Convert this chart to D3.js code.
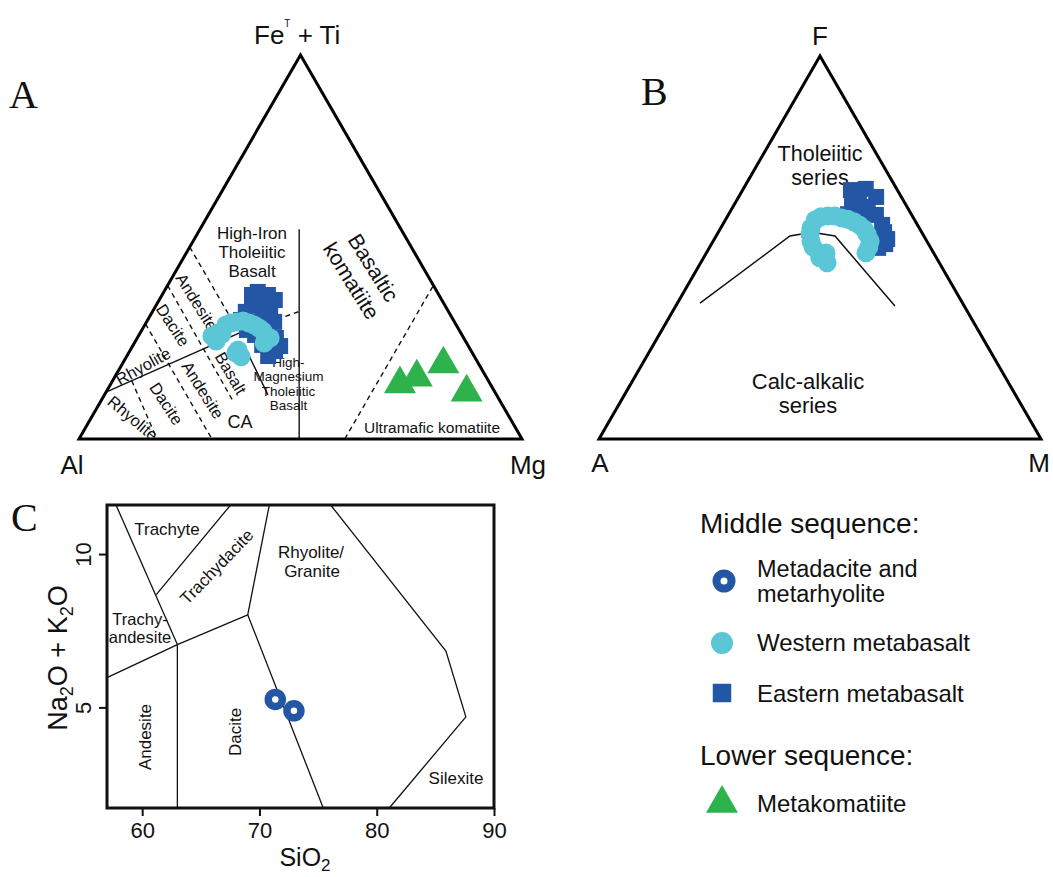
<!DOCTYPE html>
<html><head><meta charset="utf-8">
<script src="https://cdn.jsdelivr.net/npm/d3@7"></script>
<style>
body{margin:0;background:#fff}
svg text{font-family:"Liberation Sans",Arial,Helvetica,sans-serif;fill:#111}
</style></head>
<body><svg id="fig" width="1053" height="877"></svg>
<script>
// ---------- DATA ----------
// Panel A (Jensen cation plot), compositions [Fe+Ti, Al, Mg] in %
const eastA = [[37.5,42.2,20.3],[37.5,38.6,23.9],[34.9,41.7,23.4],[33.1,45.8,21.1],[33.1,40.3,26.6],[30.5,45.0,24.5],[29.7,42.9,27.4],[26.3,42.4,31.3],[24.5,46.4,29.1],[22.9,44.3,32.8],[28.4,47.9,23.7],
  [38.3,40.5,21.2],[36.2,37.7,26.1],[34.9,43.5,21.6],[31.5,42.9,25.6],[30.5,40.7,28.8],[27.1,46.7,26.2],[27.6,43.5,28.9],[24.2,42.5,33.3],[21.6,46.5,31.9],[31.0,47.9,21.1]];
const westA = [[27.6,54.8,17.6],[29.7,52.0,18.3],[30.5,49.1,20.4],[30.2,46.5,23.3],[28.9,44.9,26.2],[26.8,44.4,28.8],[25.5,56.3,18.2],[23.2,52.5,24.3],[21.4,52.7,25.9],[25.0,45.7,29.3],
  [30.2,50.6,19.2],[30.7,47.6,21.7],[29.7,45.7,24.7],[28.1,44.4,27.5],[26.8,56.6,16.6],[27.3,54.1,18.6],[22.4,53.4,24.2],[26.3,43.7,30.0]];
const komA = [[14.3,20.4,65.3],[16.1,15.7,68.2],[19.5,8.0,72.5],[12.2,6.4,81.4]];
// Panel A field boundaries [Fe+Ti, Al, Mg]
const solidA = [
  [[12.2,87.8,0],[28,49,23]],
  [[25,50.5,24.5],[11.5,51.6,36.9]],
  [[54.6,23.0,22.4],[0,50.3,49.7]]
];
const dashedA = [
  [[28,49,23],[33.2,33.7,33.1]],
  [[0,40,60],[40,0,60]],
  [[50,50,0],[28.5,50,21.5]],
  [[40,60,0],[9.4,60.3,30.3]],
  [[30,70,0],[0,70,30]],
  [[15.2,80.5,4.3],[0,82.4,17.6]]
];
// Panel B (AFM), compositions [F, A, M] in %
const eastB = [[65.0,10.5,24.5],[65.3,7.0,27.7],[63.2,5.7,31.1],[61.1,12.2,26.7],[60.6,8.9,30.5],[58.5,8.1,33.4],[57.2,11.9,30.9],[54.0,8.5,37.5],[50.9,9.8,39.3],[49.9,11.9,38.2],[53.0,11.7,35.3],
  [63.4,9.5,27.1],[59.8,11.1,29.2],[55.9,8.0,36.1],[52.2,8.7,39.1],[58.7,14.3,27.0]];
const westB = [[57.2,22.5,20.3],[58.2,19.1,22.7],[57.7,16.2,26.1],[56.7,14.0,29.3],[54.8,12.6,32.6],[51.7,12.8,35.5],[48.6,15.3,36.1],[53.5,25.5,21.0],[50.1,26.5,23.4],[46.0,25.4,28.6],[48.6,24.4,27.1],
  [58.0,20.8,21.2],[58.2,17.5,24.3],[57.4,15.0,27.6],[55.9,13.2,30.9],[53.5,12.6,33.9],[50.1,13.9,36.0],[55.1,24.5,20.4],[51.7,26.2,22.1],[47.3,26.4,26.3]];
const boundaryB = [[35.5,59.4,5.1],[53.0,30.3,16.7],[54.0,24.8,21.2],[53.0,20.1,26.9],[34.7,15.7,49.6]];
// Panel C (TAS)
const sio2 = [71.35, 72.94];
const alkali = [5.26, 4.89];
const xTicks = [60,70,80,90];
const yTicks = [5,10];
const tasLines = [
  [[63,1.72],[63,7.05]],
  [[57,5.97],[63,7.05],[69,8.02]],
  [[63,7.05],[57.77,11.6]],
  [[61.2,8.68],[67.54,11.6]],
  [[69,8.02],[70.84,11.6]],
  [[69,8.02],[75.44,1.72]],
  [[76.07,11.6],[85.9,6.84],[87.6,4.69],[81.07,1.72]]
];
const legendMiddle = ["Metadacite and|metarhyolite","Western metabasalt","Eastern metabasalt"];
const legendLower = ["Metakomatiite"];

// ---------- STYLE ----------
const DARK = "#2456a6", CYAN = "#5ac6d6", GREEN = "#2eb24b";
const svg = d3.select("#fig");

function ternary(L, R, T) {
  const xs = d3.scaleLinear().domain([0,1]).range([L[0], R[0]]);
  const ys = d3.scaleLinear().domain([0,1]).range([L[1], T[1]]);
  return p => { const s = p[0]+p[1]+p[2]; const t = p[0]/s, r = p[2]/s; return [xs(r + t/2), ys(t)]; };
}
const line = d3.line();
const sqSym = d3.symbol().type(d3.symbolSquare);
const ciSym = d3.symbol().type(d3.symbolCircle);
const trSym = d3.symbol().type(d3.symbolTriangle);

function drawTri(P) {
  svg.append("path").attr("d", line([[100,0,0],[0,100,0],[0,0,100]].map(P)) + "Z")
    .attr("fill","none").attr("stroke","#000").attr("stroke-width",3).attr("stroke-linejoin","miter");
}
function pts(data, P, sym, size, color) {
  svg.append("g").selectAll("path").data(data).join("path")
    .attr("transform", d => { const q = P(d); return `translate(${q[0]},${q[1]})`; })
    .attr("d", sym.size(size)()).attr("fill", color);
}
function txt(x, y, s, size, opts={}) {
  const t = svg.append("text").attr("x", x).attr("y", y).attr("font-size", size)
    .attr("text-anchor", opts.anchor || "middle").text(s);
  if (opts.rot !== undefined) t.attr("transform", `rotate(${opts.rot},${x},${y})`).attr("dominant-baseline","central");
  if (opts.family) t.style("font-family", opts.family);
  return t;
}

// ---------- PANEL A ----------
const PA = ternary([79,439],[522,439],[300.5,55]);
solidA.forEach(s => svg.append("path").attr("d", line(s.map(PA))).attr("fill","none").attr("stroke","#111").attr("stroke-width",1.4));
dashedA.forEach(s => svg.append("path").attr("d", line(s.map(PA))).attr("fill","none").attr("stroke","#111").attr("stroke-width",1.4).attr("stroke-dasharray","5,4"));
drawTri(PA);

const fe = svg.append("text").attr("x", 254).attr("y", 44).attr("font-size", 26);
fe.append("tspan").text("Fe");
fe.append("tspan").attr("font-size", 10).attr("dy", -17).text("T");
fe.append("tspan").attr("dy", 17).text(" + Ti");
txt(72, 474, "Al", 26);
txt(528, 474, "Mg", 26);
txt(9, 108, "A", 40, {anchor:"start", family:"'Liberation Serif','DejaVu Serif',serif"});

txt(252, 239, "High-Iron", 17); txt(252, 258, "Tholeiitic", 17); txt(252, 277, "Basalt", 17);
txt(143, 366, "Rhyolite", 16.5, {rot:-29});
txt(133, 418, "Rhyolite", 16.5, {rot:40});
txt(173, 325, "Dacite", 16.5, {rot:57});
txt(197, 302, "Andesite", 16.5, {rot:58});
txt(166.5, 403.5, "Dacite", 16.5, {rot:57});
txt(203, 390, "Andesite", 16.5, {rot:58});
txt(231, 373, "Basalt", 16.5, {rot:60});
txt(240, 428, "CA", 18);
[["High-",366.5],["Magnesium",381],["Tholeiitic",395.5],["Basalt",410]].forEach(d => txt(288.5, d[1], d[0], 13.5));
txt(373, 268, "Basaltic", 21.5, {rot:58});
txt(351, 281, "komatiite", 21.5, {rot:58});
txt(432, 433, "Ultramafic komatiite", 15.5);

pts(eastA, PA, sqSym, 16*16, DARK);
pts(westA, PA, ciSym, Math.PI*9.5*9.5, CYAN);
pts(komA, PA, trSym, 443, GREEN);

// ---------- PANEL B ----------
const PB = ternary([599,439],[1041,439],[820,56]);
svg.append("path").attr("d", line(boundaryB.map(PB))).attr("fill","none").attr("stroke","#111").attr("stroke-width",1.5);
drawTri(PB);
txt(820, 45, "F", 26);
txt(600, 472, "A", 26);
txt(1039, 472, "M", 26);
txt(641, 105, "B", 40, {anchor:"start", family:"'Liberation Serif','DejaVu Serif',serif"});
txt(820, 161, "Tholeiitic", 21.5); txt(820, 185, "series", 21.5);
txt(808, 389, "Calc-alkalic", 22); txt(808, 413, "series", 22);
pts(eastB, PB, sqSym, 16*16, DARK);
pts(westB, PB, ciSym, Math.PI*9.5*9.5, CYAN);

// ---------- PANEL C ----------
const x = d3.scaleLinear().domain([57,90]).range([107,494]);
const y = d3.scaleLinear().domain([1.72,11.6]).range([808,505]);
const gC = svg.append("g");
tasLines.forEach(l => gC.append("path").attr("d", d3.line().x(d=>x(d[0])).y(d=>y(d[1]))(l))
  .attr("fill","none").attr("stroke","#111").attr("stroke-width",1.3));
gC.append("rect").attr("x", x(57)).attr("y", y(11.6)).attr("width", x(90)-x(57)).attr("height", y(1.72)-y(11.6))
  .attr("fill","none").attr("stroke","#111").attr("stroke-width",3);
const xa = gC.append("g").attr("transform", `translate(0,${y(1.72)})`)
  .call(d3.axisBottom(x).tickValues(xTicks).tickSize(8).tickPadding(6).tickFormat(d3.format("d")));
xa.select(".domain").remove();
xa.selectAll("line").attr("stroke","#111").attr("stroke-width",2);
xa.selectAll("text").attr("font-size",22).attr("fill","#111").style("font-family","'Liberation Sans',Arial,sans-serif");
const ya = gC.append("g").attr("transform", `translate(${x(57)},0)`)
  .call(d3.axisLeft(y).tickValues(yTicks).tickSize(8).tickFormat(d3.format("d")));
ya.select(".domain").remove();
ya.selectAll("line").attr("stroke","#111").attr("stroke-width",2);
ya.selectAll("text").attr("font-size",22).attr("fill","#111").style("font-family","'Liberation Sans',Arial,sans-serif")
  .attr("transform","rotate(-90)").attr("x",0).attr("y",-16).attr("dy",0).attr("text-anchor","middle");

txt(167, 535, "Trachyte", 17);
txt(217, 567, "Trachydacite", 17, {rot:-46});
txt(311, 558, "Rhyolite/", 17); txt(312, 577, "Granite", 17);
txt(140, 625, "Trachy-", 16.5); txt(140, 643, "andesite", 16.5);
txt(145, 737, "Andesite", 17, {rot:-90});
txt(235, 732, "Dacite", 17, {rot:-90});
txt(456, 784, "Silexite", 17);
txt(11, 531, "C", 40, {anchor:"start", family:"'Liberation Serif','DejaVu Serif',serif"});

const sx = svg.append("text").attr("x", 305).attr("y", 866).attr("font-size", 25).attr("text-anchor","middle");
sx.append("tspan").text("SiO");
sx.append("tspan").attr("font-size", 17).attr("dy", 5).text("2");
const sy = svg.append("text").attr("transform","translate(67,658) rotate(-90)").attr("font-size", 27).attr("text-anchor","middle");
sy.append("tspan").text("Na");
sy.append("tspan").attr("font-size",18).attr("dy",6).text("2");
sy.append("tspan").attr("dy",-6).text("O + K");
sy.append("tspan").attr("font-size",18).attr("dy",6).text("2");
sy.append("tspan").attr("dy",-6).text("O");

gC.selectAll("circle.pt").data(sio2.map((s,i)=>[s, alkali[i]])).join("circle").attr("class","pt")
  .attr("cx", d=>x(d[0])).attr("cy", d=>y(d[1])).attr("r", 7).attr("fill","#fff")
  .attr("stroke", DARK).attr("stroke-width", 7.5);

// ---------- LEGEND ----------
txt(700, 533, "Middle sequence:", 28, {anchor:"start"});
svg.append("circle").attr("cx",724).attr("cy",581).attr("r",7.5).attr("fill","#fff").attr("stroke",DARK).attr("stroke-width",8);
legendMiddle[0].split("|").forEach((s,i) => txt(757, 577 + i*25, s, 23.5, {anchor:"start"}));
svg.append("path").attr("transform","translate(722,643)").attr("d", ciSym.size(Math.PI*11*11)()).attr("fill",CYAN);
txt(757, 651, legendMiddle[1], 24, {anchor:"start"});
svg.append("path").attr("transform","translate(722,693)").attr("d", sqSym.size(18.5*18.5)()).attr("fill",DARK);
txt(757, 702, legendMiddle[2], 24, {anchor:"start"});
txt(700, 765, "Lower sequence:", 28, {anchor:"start"});
svg.append("path").attr("transform","translate(722,803.5)").attr("d", trSym.size(443)()).attr("fill",GREEN);
txt(757, 812, legendLower[0], 24, {anchor:"start"});
</script></body></html>
